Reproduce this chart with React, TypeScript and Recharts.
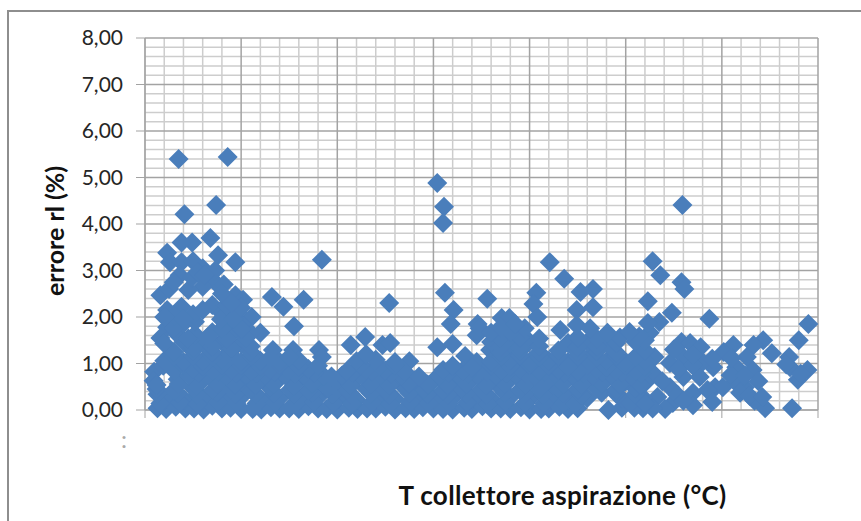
import { ScatterChart, Scatter, XAxis, YAxis, CartesianGrid } from "recharts";

type Pt = [number, number];

const yTicks = [0, 1, 2, 3, 4, 5, 6, 7, 8];
const yMinor = [0.2, 0.4, 0.6, 0.8, 1.2, 1.4, 1.6, 1.8, 2.2, 2.4, 2.6, 2.8, 3.2, 3.4, 3.6, 3.8, 4.2, 4.4, 4.6, 4.8, 5.2, 5.4, 5.6, 5.8, 6.2, 6.4, 6.6, 6.8, 7.2, 7.4, 7.6, 7.8];
const xTicks = [0, 10, 20, 30, 40, 50, 60, 70];
const xMinor = [2, 4, 6, 8, 12, 14, 16, 18, 22, 24, 26, 28, 32, 34, 36, 38, 42, 44, 46, 48, 52, 54, 56, 58, 62, 64, 66, 68];

// x has no printed labels in the original, the scale here is just 0-70
const outliers: Pt[] = [
  [3.5, 5.4], [8.6, 5.44], [4.1, 4.21], [7.4, 4.41], [6.8, 3.7], [4.9, 3.6], [3.8, 3.6], [2.3, 3.38],
  [7.6, 3.33], [9.4, 3.18], [2.6, 3.18], [3.8, 3.18], [6, 3.05], [3.6, 2.9], [7.3, 2.75], [6, 2.65],
  [4.5, 2.58], [1.6, 2.47], [9.4, 2.47], [13.2, 2.43], [10.2, 2.37], [14.4, 2.22], [16.5, 2.37], [7, 2.26],
  [3.8, 2.22], [11.1, 2], [15.5, 1.8], [2.3, 2.15], [2.3, 1.78], [1.6, 1.55], [12, 1.66], [13.3, 1.29],
  [15.4, 1.29], [0.95, 0.82], [18.4, 3.23], [25.4, 2.3], [30.4, 4.88], [31.1, 4.37], [31, 4.02], [31.2, 2.52],
  [32.1, 2.15], [31.8, 1.85], [34.6, 1.85], [34.5, 1.61], [35.6, 2.39], [22.9, 1.57], [21.4, 1.4], [24.7, 1.4],
  [25.5, 1.44], [27.5, 1.05], [30.4, 1.35], [32, 1.42], [33.3, 1.16], [18.1, 1.29], [18.4, 1.14], [34.5, 1.03],
  [35.9, 1.29], [40.7, 2.52], [40.4, 2.28], [42.1, 3.18], [43.6, 2.82], [45.3, 2.54], [46.6, 2.6], [46.6, 2.21],
  [44.9, 2.15], [52.3, 2.34], [52.8, 3.2], [53.6, 2.9], [55.8, 2.75], [56.1, 2.6], [54.8, 2.09], [58.7, 1.96],
  [53.5, 1.89], [52.5, 1.66], [55.8, 1.46], [56.7, 1.44], [57.8, 1.35], [55.9, 4.41],
];

const rightSide: Pt[] = [
  [61.2, 1.4], [60.2, 1.25], [64.3, 1.5], [63.3, 1.4], [65.2, 1.22], [67, 1.14], [69, 1.85], [68, 1.5],
  [68.9, 0.86], [67.9, 0.65], [67.1, 0.92], [61.5, 0.92], [63.2, 0.86], [62.6, 1.14], [62.4, 0.49], [59.1, 0.92],
  [58, 1.03], [56, 1.14], [54.6, 1.01], [53, 1.14], [59.3, 0.49], [60.1, 0.49], [61.4, 0.6], [61.9, 0.37],
  [56, 0.71], [57.7, 0.71], [57, 0.37], [58.5, 0.43], [54.6, 0.49], [52.8, 0.8], [53.3, 0.28], [54.9, 0.15],
  [60.9, 0.75], [62.4, 0.75], [57, 0.1], [59, 0.17], [64.5, 0.04], [67.3, 0.04], [63.4, 0.2], [54.1, 0.02],
  [55.5, 0.88], [57, 0.95], [55.4, 0.32], [56, 0.2], [53.8, 0.62], [62.9, 0.3], [68.2, 0.78], [55, 1.3], [57, 1.2], [59, 1.1],
  [61, 1.12], [63.8, 0.62], [64.2, 0.28], [66.7, 0.98],
];

const bottomRow: Pt[] = [
  [2.2, 0.02], [4.2, 0.03], [6.1, 0.01], [8, 0.03], [10, 0.02], [12.1, 0.01], [14, 0.03], [16, 0.02],
  [18, 0.03], [20, 0.01], [22.1, 0.02], [24, 0.03], [26, 0.01], [28, 0.02], [30, 0.03], [32, 0.01],
  [34, 0.02], [36, 0.03], [38, 0.02], [40, 0.01], [42, 0.03], [44, 0.02], [49.6, 0.05], [51.8, 0.04],
];

const lowRow: Pt[] = [
  [1.3, 0.04], [3.2, 0.07], [5.1, 0.03], [7, 0.09], [8.9, 0.05], [11.2, 0.02], [13.1, 0.06], [15, 0.03],
  [17, 0.08], [18.9, 0.02], [21.2, 0.05], [23.1, 0.03], [25, 0.07], [27.1, 0.04], [28.9, 0.06], [31, 0.02],
  [33.2, 0.05], [35.1, 0.08], [37, 0.03], [39.1, 0.06], [41.2, 0.02], [43.1, 0.07], [45, 0.04], [48.2, 0],
  [50.9, 0.05], [52.8, 0.03],
  [2.2, 0.25], [4.1, 0.22], [6, 0.27], [8.1, 0.24], [10, 0.28], [12.1, 0.23], [14, 0.26], [16.1, 0.22],
  [18, 0.27], [20.1, 0.25], [22, 0.22], [24.1, 0.28], [26, 0.24], [28, 0.26], [30.1, 0.23], [32, 0.27],
  [34, 0.25], [36.1, 0.22], [38, 0.28], [40, 0.24], [42.1, 0.26], [44, 0.23], [46, 0.26], [49.6, 0.24],
  [51.8, 0.27],
];

const lowFill: Pt[] = [
  [1.6, 0.14], [3.6, 0.16], [5.5, 0.13], [7.6, 0.17], [9.5, 0.15], [11.6, 0.14], [13.5, 0.16], [15.6, 0.13],
  [17.5, 0.17], [19.6, 0.15], [21.5, 0.14], [23.6, 0.16], [25.5, 0.13], [27.6, 0.17], [29.5, 0.15], [31.6, 0.14],
  [33.5, 0.16], [35.6, 0.13], [37.5, 0.17], [39.6, 0.15], [41.5, 0.14], [43.6, 0.16], [44.8, 0.13], [50.5, 0.15],
  [52, 0.14],
  [1.3, 0.34], [3.4, 0.36], [5.4, 0.33], [7.5, 0.37], [9.4, 0.35], [11.5, 0.34], [13.4, 0.36], [15.5, 0.33],
  [17.4, 0.37], [19.5, 0.35], [21.4, 0.34], [23.5, 0.36], [25.4, 0.33], [27.5, 0.37], [29.4, 0.35], [31.5, 0.34],
  [33.4, 0.36], [35.5, 0.33], [37.4, 0.37], [39.5, 0.35], [41.4, 0.34], [43.5, 0.36], [45.4, 0.33], [47.5, 0.37],
  [49, 0.35], [51, 0.34],
];

const midRow: Pt[] = [
  [1.2, 0.45], [3, 0.42], [5, 0.47], [7.1, 0.44], [9, 0.46], [11, 0.43], [13, 0.48], [15.1, 0.44],
  [17, 0.42], [19, 0.47], [21, 0.44], [23, 0.46], [25, 0.43], [27, 0.48], [29, 0.45], [31, 0.42],
  [33, 0.46], [35, 0.44], [37, 0.47], [39, 0.43], [41, 0.45], [43, 0.48], [45, 0.44], [47, 0.46],
  [49, 0.43], [51, 0.47],
  [0.9, 0.63], [3.4, 0.66], [6, 0.64], [8, 0.67], [10, 0.62], [12, 0.65], [14, 0.68], [16, 0.63],
  [18, 0.66], [20, 0.64], [22, 0.67], [24, 0.62], [26, 0.66], [28, 0.64], [30, 0.63], [32, 0.67],
  [34, 0.65], [36, 0.62], [38, 0.66], [40, 0.68], [42, 0.64], [44, 0.67], [46, 0.63], [48, 0.65],
  [50, 0.62], [52, 0.58],
];

const midFill: Pt[] = [
  [1.2, 0.54], [3.5, 0.56], [5.4, 0.53], [7.5, 0.57], [9.4, 0.55], [11.5, 0.54], [13.4, 0.56], [15.5, 0.53],
  [17.4, 0.57], [19.5, 0.55], [21.4, 0.54], [23.5, 0.56], [25.4, 0.53], [27.5, 0.57], [29.4, 0.55], [31.5, 0.54],
  [33.4, 0.56], [35.5, 0.53], [37.4, 0.57], [39.5, 0.55], [41.4, 0.54], [43.5, 0.56], [45.4, 0.53], [47.5, 0.57],
  [49.4, 0.55], [51.5, 0.54],
  [4.6, 0.74], [6.6, 0.76], [8.5, 0.73], [10.6, 0.77], [12.5, 0.75], [14.6, 0.74], [16.5, 0.76], [18.6, 0.73],
  [20.5, 0.74], [22.6, 0.77], [24.5, 0.75], [26.6, 0.74], [28.5, 0.72], [30.6, 0.73], [32.5, 0.77], [34.6, 0.75],
  [36.5, 0.74], [38.6, 0.76], [40.5, 0.73], [42.6, 0.77], [44.5, 0.75], [46.6, 0.74], [48.5, 0.76], [50.6, 0.73],
  [5.6, 0.8], [7.6, 0.82], [9.5, 0.79], [11.6, 0.8], [13.5, 0.82], [15.6, 0.79], [17.6, 0.8], [19.4, 0.72],
  [21.6, 0.8], [23.6, 0.82], [25.6, 0.79], [31.6, 0.8], [33.6, 0.78], [35.6, 0.82], [37.6, 0.8], [39.6, 0.79],
  [41.6, 0.82], [43.6, 0.8], [45.6, 0.79], [47.6, 0.82], [49.6, 0.8], [51.6, 0.79],
];

const upperRow: Pt[] = [
  [3, 0.85], [5, 0.88], [7, 0.84], [9, 0.86], [11, 0.83], [13, 0.87], [15, 0.85], [17, 0.88],
  [21, 0.84], [23, 0.87], [25, 0.85], [27, 0.83], [31, 0.86], [33, 0.84], [35, 0.87], [37, 0.85],
  [39, 0.88], [41, 0.84], [43, 0.86], [45, 0.83], [47, 0.87], [49, 0.85], [51, 0.84],
  [1.9, 0.95], [4, 0.96], [6, 0.94], [8, 0.97], [10, 0.95], [12, 0.94], [14, 0.96], [16, 0.93], [18, 0.95],
  [22.4, 0.96], [24.4, 0.94], [26, 0.95], [32, 0.95], [34, 0.92], [36, 0.96], [38, 0.94], [40, 0.97],
  [42, 0.95], [44, 0.94], [46, 0.96], [48, 0.93], [50, 0.95], [52, 0.94],
  [2, 1.06], [4, 1.03], [6, 1.05], [8, 1.08], [10, 1.04], [12, 1.06], [14, 1.03], [16, 1.07],
  [22, 1.05], [24, 1.08], [26, 1.03], [36, 1.05], [38, 1.07], [40, 1.04], [42, 1.06], [44, 1.03],
  [46, 1.08], [48, 1.05], [50, 1.03], [52, 1.06],
  [3, 1.15], [5, 1.16], [7, 1.14], [9, 1.17], [11, 1.15], [13, 1.12], [15, 1.14], [23, 1.2], [37, 1.15],
  [39, 1.17], [41, 1.14], [43, 1.16], [45, 1.15], [47, 1.13], [49, 1.16], [51, 1.14],
];

const leftCluster: Pt[] = [
  [3, 1.25], [5, 1.27], [7, 1.24], [9, 1.28], [11, 1.25], [2, 1.43], [4, 1.46], [6, 1.44],
  [8, 1.47], [10, 1.43], [5, 1.35], [7, 1.36], [9, 1.34], [11, 1.37], [3.2, 1.66], [5.2, 1.63],
  [7, 1.67], [9, 1.64], [11, 1.66], [4.5, 1.54], [6.5, 1.56], [8.5, 1.53], [10.5, 1.55], [4, 1.86],
  [5.2, 1.9], [8.4, 1.84], [10, 1.85], [3, 1.76], [8, 1.75], [10, 1.74], [3, 2.03], [5, 2.06],
  [8, 2.08], [9.6, 2.1], [4, 1.95], [7.9, 1.95], [9.2, 1.96], [10, 2.2], [8.4, 2.25], [6, 2.15],
  [2.5, 2.6], [3, 2.75], [4.9, 2.85], [5, 3.2], [5.5, 2.95], [7.3, 3], [8.2, 2.7], [6.2, 2.9],
  [8, 2.5], [9, 2.3], [2, 2],
];

const rightCluster: Pt[] = [
  [37, 1.25], [39, 1.27], [41, 1.24], [43, 1.28], [45, 1.25], [47, 1.27], [49, 1.24], [52, 1.28],
  [36, 1.46], [38, 1.43], [40, 1.47], [44, 1.44], [46, 1.46], [48, 1.43], [51, 1.47],
  [37, 1.36], [39, 1.35], [41, 1.37], [45, 1.35], [47, 1.36], [49, 1.44], [52, 1.5],
  [37, 1.55], [39, 1.56], [41, 1.54], [45, 1.56], [47, 1.54], [49.4, 1.56], [51.4, 1.58],
  [37.1, 1.98], [37.9, 1.98], [34.8, 1.76], [36, 1.66], [38, 1.68], [39.5, 1.76], [40.8, 2], [43.2, 1.72],
  [44.9, 1.83], [46.3, 1.76], [48.1, 1.66], [50.4, 1.68], [52.3, 1.87], [37, 1.78], [38.5, 1.85],
];

const points = [
  ...outliers, ...rightSide, ...bottomRow, ...lowRow, ...lowFill, ...midRow, ...midFill, ...upperRow, ...leftCluster, ...rightCluster,
].map(([temp, err]) => ({ temp, err }));

const MARK = 10;

function DiamondMark(props: any) {
  const { cx, cy } = props;
  return (
    <path
      d={`M${cx} ${cy - MARK}L${cx + MARK} ${cy}L${cx} ${cy + MARK}L${cx - MARK} ${cy}Z`}
      fill="#4a7ebb"
    />
  );
}

const fmt = (v: number) => v.toFixed(2).replace(".", ",");

export default function App() {
  return (
    <div style={{ position: "absolute", left: 0, top: 0, width: 861, height: 521, background: "#fff", overflow: "hidden" }}>
      <div
        style={{
          position: "absolute",
          left: 7,
          top: 10,
          width: 870,
          height: 530,
          borderLeft: "2px solid #8e8e8e",
          borderTop: "2px solid #8e8e8e",
        }}
      />
      <div style={{ position: "absolute", left: 121, top: 424, fontSize: 24, color: "#aaa", fontFamily: "Lato" }}>:</div>
      <ScatterChart
        width={861}
        height={521}
        margin={{ top: 38, right: 43, bottom: 0, left: 0 }}
        style={{ fontFamily: "Lato, Carlito, sans-serif" }}
      >
        <CartesianGrid stroke="#cdcdcd" strokeWidth={1.5} horizontalValues={yMinor} verticalValues={xMinor} />
        <CartesianGrid stroke="#a3a3a3" strokeWidth={1.5} horizontalValues={yTicks} verticalValues={xTicks} />
        <XAxis
          type="number"
          dataKey="temp"
          domain={[0, 70]}
          ticks={xTicks}
          interval={0}
          height={111}
          tickSize={8}
          tickFormatter={() => ""}
          stroke="#a3a3a3"
          label={{
            value: "T collettore aspirazione (°C)",
            position: "insideBottom",
            offset: 16,
            dx: 81,
            fontSize: 26,
            letterSpacing: 0.35,
            fontWeight: 700,
            fill: "#111",
          }}
        />
        <YAxis
          type="number"
          dataKey="err"
          domain={[0, 8]}
          ticks={yTicks}
          interval={0}
          width={145}
          tickSize={9}
          tickMargin={13}
          tickFormatter={fmt}
          stroke="#a3a3a3"
          tick={{ fill: "#262626", fontSize: 21 }}
          label={{
            value: "errore rl (%)",
            angle: -90,
            position: "insideLeft",
            offset: 55,
            dy: 72,
            fontSize: 25,
            fontWeight: 700,
            fill: "#111",
          }}
        />
        <Scatter data={points} shape={DiamondMark} isAnimationActive={false} />
      </ScatterChart>
    </div>
  );
}
